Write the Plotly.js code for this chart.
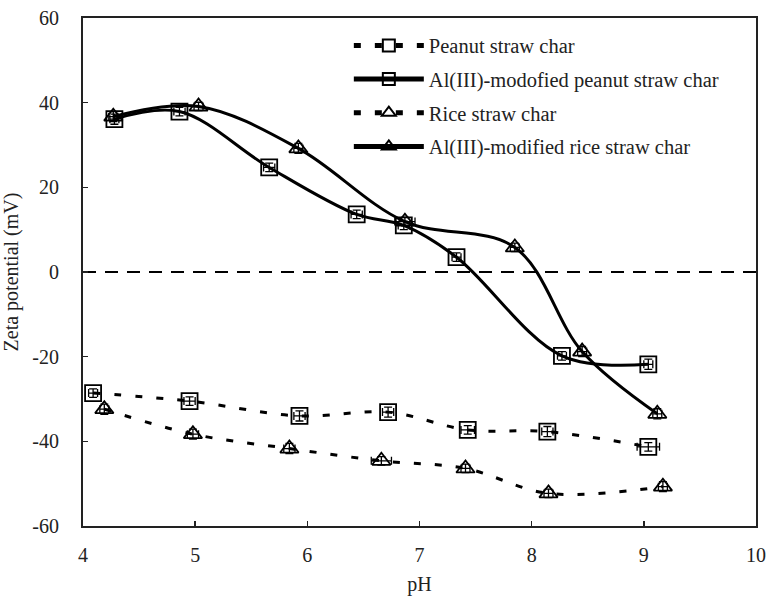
<!DOCTYPE html>
<html>
<head>
<meta charset="utf-8">
<script src="https://cdn.plot.ly/plotly-3.0.1.min.js"></script>
<style>html,body{margin:0;padding:0;background:#fff;}#chart{width:767px;height:597px;}</style>
</head>
<body>
<div id="chart"></div>
<script>
// Peanut straw char
const peanutPH   = [4.09, 4.95, 5.93, 6.72, 7.43, 8.14, 9.04];
const peanutZeta = [-28.6, -30.5, -34.0, -33.1, -37.3, -37.7, -41.3];
const peanutErrX = [0.04, 0.05, 0.05, 0.05, 0.06, 0.05, 0.10];
const peanutErrY = [1.0, 1.0, 1.2, 1.2, 1.0, 1.2, 1.0];
// Al(III)-modified peanut straw char
const alPeanutPH   = [4.28, 4.86, 5.66, 6.44, 6.86, 7.33, 8.27, 9.04];
const alPeanutZeta = [36.1, 37.9, 24.7, 13.6, 11.0, 3.5, -19.8, -21.8];
const alPeanutErrX = [0.04, 0.05, 0.05, 0.05, 0.05, 0.04, 0.04, 0.04];
const alPeanutErrY = [1.2, 1.0, 1.0, 1.0, 1.0, 1.0, 1.0, 1.2];
// Rice straw char
const ricePH   = [4.19, 4.98, 5.84, 6.66, 7.41, 8.15, 9.17];
const riceZeta = [-32.4, -38.3, -41.7, -44.6, -46.4, -52.3, -50.7];
const riceErrX = [0.04, 0.05, 0.05, 0.09, 0.04, 0.04, 0.04];
const riceErrY = [1.2, 1.2, 1.2, 1.0, 1.0, 1.0, 1.2];
// Al(III)-modified rice straw char
const alRicePH   = [4.27, 5.03, 5.92, 6.87, 7.85, 8.45, 9.12];
const alRiceZeta = [36.7, 39.1, 29.2, 11.9, 5.8, -18.8, -33.5];
const alRiceErrX = [0.04, 0.04, 0.04, 0.09, 0.04, 0.04, 0.04];
const alRiceErrY = [1.2, 1.0, 1.2, 1.0, 1.0, 1.2, 1.2];

const xTicks = [4, 5, 6, 7, 8, 9, 10];
const yTicks = [-60, -40, -20, 0, 20, 40, 60];

const FONT = "'Liberation Serif', 'DejaVu Serif', 'Times New Roman', serif";
const DASH = '7px,14px';
const F = {family: FONT, size: 20, color: '#222'};

function mk(name, x, y, ex, ey, symbol, dashed, group) {
  return {
    type: 'scatter', mode: 'lines+markers', name: name, x: x, y: y,
    legendgroup: group,
    line: {color: '#000', width: 3, shape: 'spline', smoothing: 1, dash: dashed ? DASH : 'solid'},
    marker: {symbol: symbol, size: 16, color: '#000', line: {color: '#000', width: 1.8}},
    error_x: {type: 'data', array: ex, visible: true, color: '#000', thickness: 1.3, width: 4},
    error_y: {type: 'data', array: ey, visible: true, color: '#000', thickness: 1.3, width: 4}
  };
}

const data = [
  mk('Peanut straw char', peanutPH, peanutZeta, peanutErrX, peanutErrY, 'square-open', true, 'g1'),
  mk('Al(III)-modofied peanut straw char', alPeanutPH, alPeanutZeta, alPeanutErrX, alPeanutErrY, 'square-open', false, 'g2'),
  mk('Rice straw char', ricePH, riceZeta, riceErrX, riceErrY, 'triangle-up-open', true, 'g3'),
  mk('Al(III)-modified rice straw char', alRicePH, alRiceZeta, alRiceErrX, alRiceErrY, 'triangle-up-open', false, 'g4')
];

const layout = {
  width: 767, height: 597,
  margin: {l: 83, r: 11, t: 18, b: 71},
  paper_bgcolor: '#fff', plot_bgcolor: '#fff',
  font: F,
  showlegend: true,
  legend: {
    x: 0.395, y: 0.985, xanchor: 'left', yanchor: 'top',
    bgcolor: 'rgba(0,0,0,0)', font: {family: FONT, size: 20.5, color: '#222'},
    tracegroupgap: 4, itemwidth: 70, itemsizing: 'constant'
  },
  xaxis: {
    range: [4, 10], tickvals: xTicks, ticktext: xTicks.map(String),
    tickfont: F,
    showgrid: false, zeroline: false, showline: true, mirror: true,
    linecolor: '#222', linewidth: 2, ticks: 'inside', ticklen: 5, tickwidth: 1.5, tickcolor: '#222',
    ticklabelstandoff: 10,
    title: {text: 'pH', font: F, standoff: 12}
  },
  yaxis: {
    range: [-60, 60], tickvals: yTicks, ticktext: yTicks.map(String),
    tickfont: F,
    showgrid: false, zeroline: false, showline: true, mirror: true,
    linecolor: '#222', linewidth: 2, ticks: 'inside', ticklen: 5, tickwidth: 1.5, tickcolor: '#222',
    ticklabelstandoff: 18,
    title: {text: 'Zeta potential (mV)', font: F, standoff: 10}
  },
  shapes: [{
    type: 'line', xref: 'x', yref: 'y', x0: 4, x1: 10, y0: 0, y1: 0,
    line: {color: '#000', width: 2, dash: '13px,9px'}, layer: 'below'
  }]
};

Plotly.newPlot('chart', data, layout, {displayModeBar: false, staticPlot: true});
</script>
</body>
</html>
